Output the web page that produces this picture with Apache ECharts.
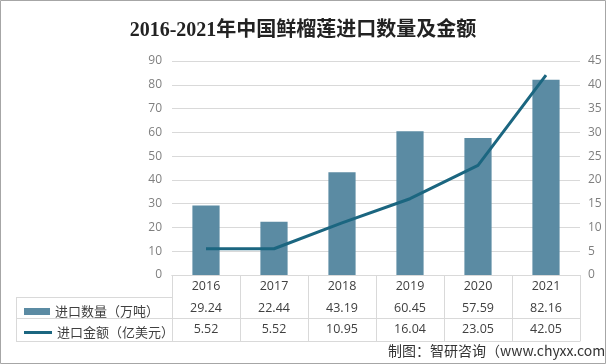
<!DOCTYPE html>
<html><head><meta charset="utf-8">
<script src="https://cdn.jsdelivr.net/npm/echarts@6/dist/echarts.min.js"></script>
<style>html,body{margin:0;padding:0;background:#fff}#c{width:606px;height:364px}</style>
</head><body><div id="c"></div>
<script>
var title = '2016-2021年中国鲜榴莲进口数量及金额';
var years = ['2016', '2017', '2018', '2019', '2020', '2021'];
var qtyName = '进口数量（万吨）';
var amtName = '进口金额（亿美元）';
var quantity = [29.24, 22.44, 43.19, 60.45, 57.59, 82.16];
var amount = [5.52, 5.52, 10.95, 16.04, 23.05, 42.05];
var leftTicks = {min: 0, max: 90, interval: 10};
var rightTicks = {min: 0, max: 45, interval: 5};
var source = '制图：智研咨询（www.chyxx.com）';

var gridC = '#d9d9d9';
var txtC = '#404040';
function fmt(a){return a.map(function(v){return v.toFixed(2);});}
function tableAxis(data, offset, showLabel){
  return {type:'category', data:data, position:'bottom', offset:offset, gridIndex:0,
    axisLine:{show:true, lineStyle:{color:gridC, width:1}},
    axisTick:{show:false},
    axisLabel:{show:showLabel, interval:0, margin:5, color:txtC, fontSize:12.5, fontFamily:'Open Sans, Noto Sans CJK SC'}};
}
var chart = echarts.init(document.getElementById('c'), null, {renderer:'canvas'});
chart.setOption({
  backgroundColor:'#fff',
  animation:false,
  title:{text:title, left:'center', top:16,
    textStyle:{fontSize:20, fontWeight:'bold', color:'#222', fontFamily:"'Liberation Serif','Noto Sans CJK SC'"}},
  grid:{left:172, right:26, top:61, bottom:89, containLabel:false},
  legend:[
    {data:[{name:qtyName, icon:'rect'}], left:19, top:300, orient:'vertical', itemWidth:26, itemHeight:7, selectedMode:false,
     textStyle:{fontSize:13, color:txtC, fontFamily:'Noto Sans CJK SC'}},
    {data:[{name:amtName, icon:'rect'}], left:19, top:321, orient:'vertical', itemWidth:28, itemHeight:3, selectedMode:false,
     textStyle:{fontSize:13, color:txtC, fontFamily:'Noto Sans CJK SC'}}
  ],
  xAxis:[
    {type:'category', data:years, position:'bottom', gridIndex:0,
     axisLine:{show:true, lineStyle:{color:gridC}},
     axisTick:{show:true, length:66, alignWithLabel:false, lineStyle:{color:gridC}},
     axisLabel:{interval:0, margin:5, color:txtC, fontSize:12.5, fontFamily:'Open Sans, Noto Sans CJK SC'}},
    tableAxis(fmt(quantity), 22, true),
    tableAxis(fmt(amount), 43, true),
    tableAxis(years, 66, false)
  ],
  yAxis:[
    {type:'value', min:leftTicks.min, max:leftTicks.max, interval:leftTicks.interval, position:'left',
     axisLine:{show:false}, axisTick:{show:false},
     axisLabel:{margin:10, color:'#7f7f7f', fontSize:12, fontFamily:'Open Sans'},
     splitLine:{lineStyle:{color:gridC}}},
    {type:'value', min:rightTicks.min, max:rightTicks.max, interval:rightTicks.interval, position:'right',
     axisLine:{show:false}, axisTick:{show:false},
     axisLabel:{margin:8, color:'#7f7f7f', fontSize:12, fontFamily:'Open Sans'},
     splitLine:{show:false}}
  ],
  series:[
    {name:qtyName, type:'bar', data:quantity, xAxisIndex:0, yAxisIndex:0, barWidth:'40%',
     itemStyle:{color:'#5b8ba3'}},
    {name:amtName, type:'line', data:amount, xAxisIndex:0, yAxisIndex:1, symbol:'none',
     lineStyle:{color:'#1b6680', width:3}, itemStyle:{color:'#1b6680'}}
  ],
  graphic:[
    {type:'rect', shape:{x:0.5, y:0.5, width:605, height:363}, style:{fill:'none', stroke:'#a6a6a6', lineWidth:1}, silent:true},
    {type:'line', shape:{x1:16, y1:297.5, x2:172, y2:297.5}, style:{stroke:gridC, lineWidth:1}},
    {type:'line', shape:{x1:16, y1:318.5, x2:172, y2:318.5}, style:{stroke:gridC, lineWidth:1}},
    {type:'line', shape:{x1:16, y1:341.5, x2:172, y2:341.5}, style:{stroke:gridC, lineWidth:1}},
    {type:'line', shape:{x1:16.5, y1:297, x2:16.5, y2:342}, style:{stroke:gridC, lineWidth:1}},
    {type:'text', left:388, top:344, style:{text:source, fontSize:14, fill:'#333', fontFamily:'Noto Sans CJK SC'}}
  ]
});
</script></body></html>
